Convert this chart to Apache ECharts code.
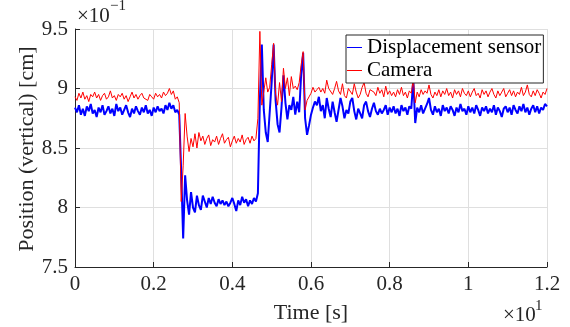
<!DOCTYPE html>
<html>
<head>
<meta charset="utf-8">
<script src="https://cdn.jsdelivr.net/npm/echarts@6/dist/echarts.min.js"></script>
<style>
  html, body { margin: 0; padding: 0; background: #fff; }
  #chart { width: 570px; height: 327px; }
</style>
</head>
<body>
<div id="chart"></div>
<script>
// Sampling interval of both recordings, in axis units (x 10 s)
const sampleStep = 0.005;

// Vertical position from the displacement sensor (x 0.1 cm), one value per sample
const displacement = [
  8.84, 8.80, 8.86, 8.78, 8.83, 8.77, 8.85, 8.81, 8.87, 8.79,
  8.82, 8.76, 8.84, 8.80, 8.86, 8.78, 8.81, 8.85, 8.79, 8.83,
  8.77, 8.87, 8.81, 8.84, 8.78, 8.82, 8.86, 8.80, 8.76, 8.83,
  8.79, 8.85, 8.81, 8.78, 8.84, 8.80, 8.86, 8.79, 8.82, 8.77,
  8.84, 8.80, 8.85, 8.81, 8.83, 8.79, 8.86, 8.82, 8.88, 8.83,
  8.86, 8.80, 8.82, 8.78, 8.30, 7.74, 8.27, 8.06, 7.94, 8.13,
  8.00, 7.96, 8.10, 8.02, 7.98, 8.10, 8.05, 8.00, 8.08, 8.03,
  8.09, 8.04, 8.01, 8.07, 8.03, 8.06, 8.02, 8.05, 8.01, 8.04,
  8.08, 8.03, 7.97, 8.06, 8.02, 8.09, 8.04, 8.07, 8.01, 8.06,
  8.03, 8.08, 8.05, 8.12, 8.90, 9.37, 8.82, 8.63, 8.55, 8.80,
  9.05, 9.37, 8.90, 8.70, 8.63, 8.84, 9.11, 8.88, 8.74, 8.86,
  8.82, 8.93, 8.78, 8.89, 8.80, 9.12, 9.30, 8.75, 8.61, 8.69,
  8.78, 8.84, 8.89, 8.86, 8.93, 8.81, 8.86, 8.75, 8.92, 8.83,
  8.76, 8.89, 8.80, 8.72, 8.71, 8.92, 8.85, 8.75, 8.82, 8.79,
  8.89, 8.92, 8.81, 8.74, 8.83, 8.79, 8.75, 8.86, 8.89, 8.81,
  8.76, 8.83, 8.88, 8.81, 8.78, 8.83, 8.79, 8.82, 8.86, 8.78,
  8.84, 8.80, 8.85, 8.79, 8.83, 8.77, 8.86, 8.81, 8.84, 8.78,
  8.85, 8.83, 9.08, 8.71, 8.84, 8.80, 8.86, 8.79, 8.83, 8.87,
  8.92, 8.82, 8.78, 8.85, 8.80, 8.83, 8.77, 8.86, 8.81, 8.84,
  8.79, 8.85, 8.82, 8.77, 8.84, 8.80, 8.87, 8.81, 8.83, 8.78,
  8.85, 8.80, 8.84, 8.79, 8.86, 8.82, 8.77, 8.84, 8.81, 8.85,
  8.79, 8.83, 8.80, 8.86, 8.78, 8.84, 8.81, 8.76, 8.83, 8.85,
  8.80, 8.84, 8.78, 8.86, 8.82, 8.79, 8.85, 8.81, 8.87, 8.80,
  8.84, 8.78, 8.83, 8.86, 8.80, 8.85, 8.79, 8.84, 8.82, 8.87,
  8.85
];

// Vertical position tracked by the camera (x 0.1 cm), same sample times
const camera = [
  8.93, 8.90, 8.96, 8.92, 8.97, 8.91, 8.94, 8.89, 8.95, 8.93,
  8.97, 8.92, 8.95, 8.90, 8.94, 8.96, 8.91, 8.93, 8.98, 8.92,
  8.94, 8.90, 8.95, 8.93, 8.96, 8.91, 8.94, 8.89, 8.93, 8.97,
  8.92, 8.95, 8.91, 8.94, 8.96, 8.92, 8.93, 8.90, 8.95, 8.93,
  8.91, 8.96, 8.93, 8.95, 8.92, 8.97, 8.94, 8.96, 9.00, 8.95,
  8.98, 8.91, 8.93, 8.88, 8.05, 8.35, 8.79, 8.60, 8.47, 8.58,
  8.51, 8.62, 8.50, 8.63, 8.56, 8.60, 8.53, 8.58, 8.61, 8.52,
  8.57, 8.55, 8.60, 8.53, 8.58, 8.62, 8.54, 8.57, 8.59, 8.51,
  8.56, 8.60, 8.54, 8.58, 8.55, 8.61, 8.53, 8.57, 8.59, 8.54,
  8.60, 8.56, 8.58, 8.75, 9.48, 8.86, 8.85, 9.09, 8.97, 9.01,
  9.20, 9.38, 8.95, 8.86, 9.05, 8.89, 9.17, 9.00, 9.09, 8.94,
  9.10, 9.00, 9.02, 8.99, 9.05, 9.20, 9.31, 8.82, 8.90, 8.93,
  8.96, 9.01, 8.97, 8.99, 9.01, 8.97, 9.00, 8.96, 9.07, 9.00,
  9.01, 8.95, 9.00, 9.06, 8.98, 8.95, 9.04, 8.94, 8.92, 9.00,
  9.01, 8.95, 9.04, 8.97, 8.92, 8.95, 9.01, 9.05, 8.96, 8.93,
  8.99, 9.00, 8.97, 8.94, 9.01, 8.96, 8.99, 8.93, 9.02, 8.95,
  8.98, 8.94, 8.97, 8.93, 8.99, 8.95, 9.01, 8.94, 8.97, 8.92,
  8.98, 8.96, 9.08, 8.88, 8.97, 8.93, 8.99, 8.95, 8.98, 8.96,
  9.03, 8.95, 8.92, 8.97, 8.94, 8.99, 8.93, 8.98, 8.95, 9.00,
  8.94, 8.97, 8.92, 8.99, 8.95, 8.98, 8.93, 9.00, 8.96, 8.94,
  8.98, 8.93, 8.97, 9.00, 8.94, 8.96, 8.92, 8.99, 8.95, 8.98,
  8.93, 8.97, 9.00, 8.95, 8.92, 8.98, 8.94, 8.97, 9.00, 8.93,
  8.96, 8.99, 8.94, 8.98, 8.93, 8.97, 8.95, 9.01, 8.94, 8.97,
  9.03, 8.95, 8.93, 8.98, 8.94, 8.99, 8.96, 8.92, 8.97, 8.95,
  9.00
];

const seriesNames = ['Displacement sensor', 'Camera'];
const xRange = [0, 1.2];
const yRange = [7.5, 9.5];

const FONT = '"Liberation Serif", "Times New Roman", serif';
const INK = '#262626';
const GRID = '#dfdfdf';

const toPairs = vals => vals.map((v, i) => [+(i * sampleStep).toFixed(4), v]);

const chart = echarts.init(document.getElementById('chart'));

const axisCommon = {
  type: 'value',
  axisLine: { show: true, onZero: false, lineStyle: { color: INK, width: 1 } },
  axisTick: { show: true, inside: true, length: 5, lineStyle: { color: INK, width: 1 } },
  axisLabel: { color: INK, fontFamily: FONT, fontSize: 21, margin: 7 },
  splitLine: { show: true, lineStyle: { color: GRID, width: 1 } }
};

chart.setOption({
  animation: false,
  backgroundColor: '#fff',
  grid: { left: 75, right: 23, top: 29, bottom: 60, containLabel: false },
  xAxis: Object.assign({}, axisCommon, { min: xRange[0], max: xRange[1], interval: 0.2 }),
  yAxis: Object.assign({}, axisCommon, { min: yRange[0], max: yRange[1], interval: 0.5 }),
  legend: {
    data: seriesNames,
    orient: 'vertical',
    left: 346,
    top: 35,
    padding: [1, 2, 1, 1],
    itemGap: 0,
    itemWidth: 15,
    itemHeight: 1,
    icon: 'rect',
    backgroundColor: '#fff',
    borderColor: INK,
    borderWidth: 1,
    textStyle: { fontFamily: FONT, fontSize: 21, lineHeight: 23, color: '#000' }
  },
  series: [
    {
      name: seriesNames[0],
      type: 'line',
      data: toPairs(displacement),
      symbol: 'none',
      color: '#0000ff',
      lineStyle: { color: '#0000ff', width: 2 }
    },
    {
      name: seriesNames[1],
      type: 'line',
      data: toPairs(camera),
      symbol: 'none',
      color: '#ff0000',
      lineStyle: { color: '#ff0000', width: 1 }
    }
  ],
  graphic: [
    {
      type: 'text', x: 27, y: 149, rotation: Math.PI / 2,
      style: { text: 'Position (vertical) [cm]', fontFamily: FONT, fontSize: 22, fill: INK,
               textAlign: 'center', textVerticalAlign: 'middle' }
    },
    {
      type: 'text', x: 311, y: 313,
      style: { text: 'Time [s]', fontFamily: FONT, fontSize: 22, fill: INK,
               textAlign: 'center', textVerticalAlign: 'middle' }
    },
    {
      type: 'text', x: 77, y: 16,
      style: { text: '×10', fontFamily: FONT, fontSize: 21, fill: INK,
               textAlign: 'left', textVerticalAlign: 'middle' }
    },
    {
      type: 'text', x: 110, y: 6,
      style: { text: '−1', fontFamily: FONT, fontSize: 15, fill: INK,
               textAlign: 'left', textVerticalAlign: 'middle' }
    },
    {
      type: 'text', x: 503, y: 315,
      style: { text: '×10', fontFamily: FONT, fontSize: 21, fill: INK,
               textAlign: 'left', textVerticalAlign: 'middle' }
    },
    {
      type: 'text', x: 535, y: 306,
      style: { text: '1', fontFamily: FONT, fontSize: 15, fill: INK,
               textAlign: 'left', textVerticalAlign: 'middle' }
    }
  ]
});
</script>
</body>
</html>
